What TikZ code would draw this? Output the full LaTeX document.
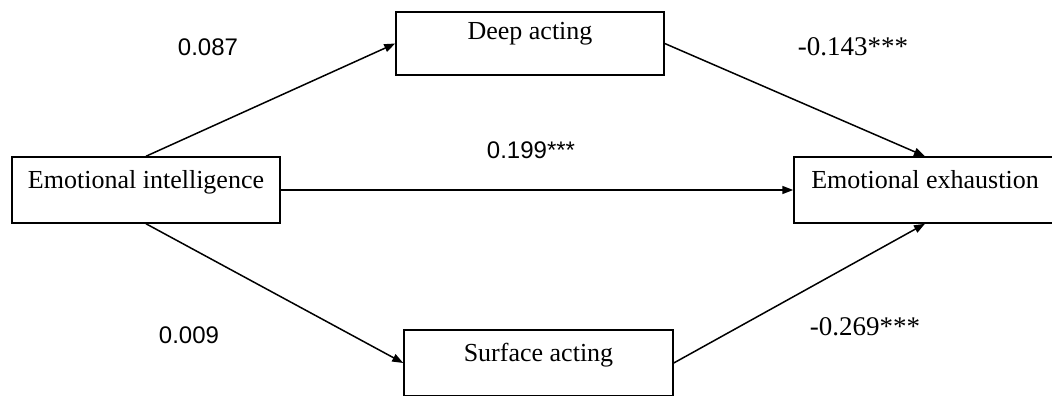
\documentclass[tikz,border=0pt]{standalone}
\usepackage{fontspec}
\setmainfont{Liberation Serif}
\newfontfamily\numfont{Liberation Sans}
\usetikzlibrary{arrows.meta}
\begin{document}
\begin{tikzpicture}[x=1pt,y=-1pt,line width=1.5pt,
	box/.style={draw,rectangle,inner xsep=0pt,inner ysep=6pt,text height=25pt,text depth=29pt,font=\fontsize{26}{30}\selectfont},
	coef/.style={inner sep=0pt,font=\numfont\fontsize{24}{28}\selectfont},
	coefs/.style={inner sep=0pt,font=\fontsize{27}{30}\selectfont},
	path/.style={-{Triangle[length=11pt,width=8pt]}}]
				\useasboundingbox (0,0) rectangle (1052,396);
				% boxes
				\node[box,minimum width=268pt] (ei) at (146,190){Emotional intelligence};
				\node[box,minimum width=268pt,text height=22pt] (da) at (530,43.5){Deep acting};
				\node[box,minimum width=269pt] (sa) at (538.5,363){Surface acting};
				\node[box,minimum width=262pt] (ee) at (925,190){Emotional exhaustion};
				% paths
				\draw[path] (ei.north)--(da.west);
				\draw[path] (da.east)--(ee.north);
				\draw[path] (ei.east)--(ee.west);
				\draw[path] (ei.south)--(sa.west);
				\draw[path] (sa.east)--(ee.south);
				% coefficients
				\node[coef] (c1) at (208,47){0.087};
				\node[coefs] (c2) at (853,47){-0.143***};
				\node[coef] (c3) at (531,150){0.199***};
				\node[coef] (c4) at (189,335){0.009};
				\node[coefs] (c5) at (865,327){-0.269***};
\end{tikzpicture}
\end{document}
